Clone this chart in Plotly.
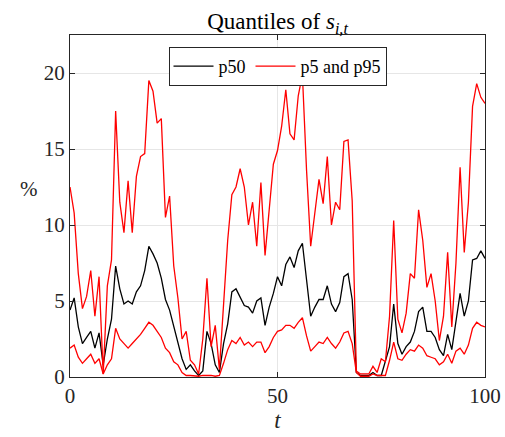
import plotly.graph_objects as go

t = list(range(0, 101))

p50 = [4.4, 5.2, 3.3, 2.2, 2.6, 3.0, 1.9, 2.9, 0.8, 2.5,
       3.8, 7.3, 5.8, 4.8, 5.0, 4.8, 5.6, 6.0, 7.0, 8.6,
       8.1, 7.5, 6.5, 5.1, 4.4, 3.3, 2.2, 1.2, 0.5, 0.8,
       0.4, 0.1, 0.4, 3.0, 2.2, 0.8, 0.3, 2.2, 3.5, 5.6,
       5.8, 5.3, 4.7, 4.6, 4.2, 5.0, 5.2, 3.4, 4.6, 5.5,
       6.6, 6.0, 7.4, 7.9, 7.2, 8.3, 8.8, 6.4, 4.0, 4.6,
       5.1, 5.1, 6.0, 4.8, 4.3, 4.9, 6.6, 6.8, 5.1, 0.3,
       0.1, 0.1, 0.1, 0.3, 0.1, 0.1, 1.0, 2.0, 4.8, 2.2,
       1.5, 2.0, 2.3, 3.0, 4.3, 4.6, 3.0, 3.0, 2.6, 1.8,
       1.4, 2.8, 1.8, 3.5, 5.5, 4.0, 5.0, 7.7, 7.8, 8.3,
       7.8]

p5 = [1.9, 2.1, 1.3, 0.9, 1.2, 1.5, 0.9, 1.2, 0.2, 0.8,
      1.2, 3.2, 2.5, 2.2, 1.9, 2.2, 2.5, 2.8, 3.2, 3.6,
      3.4, 3.0, 2.6, 1.9, 1.6, 1.0, 0.8, 0.3, 0.1, 0.1,
      0.05, 0.05, 0.1, 0.1, 0.1, 0.05, 0.1, 0.9, 1.8, 2.4,
      2.2, 2.6, 2.1, 2.3, 2.0, 2.3, 2.3, 1.6, 2.0, 2.6,
      3.0, 3.1, 3.4, 3.4, 3.2, 3.6, 3.9, 2.7, 1.7, 2.0,
      2.3, 2.2, 2.6, 2.2, 1.9, 2.3, 2.9, 3.0, 2.2, 0.3,
      0.05, 0.05, 0.05, 0.2, 0.1, 0.1, 0.1, 1.1, 2.3, 1.2,
      1.1, 1.5, 1.8, 1.7, 2.1, 1.9, 1.4, 1.3, 1.2, 0.8,
      1.0, 1.5, 0.9, 1.7, 1.9, 1.5, 2.1, 3.2, 3.6, 3.4,
      3.3]

p95 = [12.5, 10.8, 6.8, 4.5, 5.3, 7.0, 4.0, 6.6, 0.2, 6.0,
       7.7, 17.5, 11.5, 9.5, 12.9, 9.5, 13.2, 14.5, 14.7, 19.5,
       18.8, 16.7, 17.0, 10.5, 11.9, 7.3, 5.2, 2.5, 3.0, 1.1,
       0.8, 0.2, 2.5, 6.5, 2.0, 3.4, 0.5, 4.4, 9.0, 12.0,
       12.5, 13.7, 12.5, 10.0, 11.5, 8.6, 12.8, 8.0, 11.0, 14.0,
       14.9, 16.5, 18.9, 16.0, 15.6, 18.5, 19.9, 13.6, 8.6, 10.9,
       13.0, 11.4, 14.5, 10.0, 11.5, 11.0, 15.5, 15.6, 11.6, 0.4,
       0.2, 0.2, 0.2, 0.7, 0.3, 1.2, 1.0, 4.0, 10.3, 3.8,
       2.9, 4.2, 6.8, 6.5, 11.0, 9.0, 5.9, 6.8, 5.0, 2.4,
       4.0, 8.2, 3.3, 7.5, 13.8, 8.2, 11.5, 17.8, 19.3, 18.4,
       18.0]

x_ticks = [0, 50, 100]
y_ticks = [0, 5, 10, 15, 20]

FONT = "Liberation Serif"

fig = go.Figure()
fig.add_trace(go.Scatter(x=t, y=p50, mode="lines", name="p50",
                         line=dict(color="black", width=1.3)))
fig.add_trace(go.Scatter(x=t, y=p5, mode="lines", name="p5 and p95",
                         legendgroup="r", line=dict(color="#ff0000", width=1.3)))
fig.add_trace(go.Scatter(x=t, y=p95, mode="lines", name="p95",
                         legendgroup="r", showlegend=False,
                         line=dict(color="#ff0000", width=1.3)))

axis_common = dict(showline=True, linecolor="#262626", linewidth=1, mirror="allticks",
                   ticks="inside", ticklen=5, tickcolor="#262626",
                   showgrid=True, gridcolor="#e6e6e6", gridwidth=1, zeroline=False,
                   automargin=False,
                   tickfont=dict(family=FONT, size=21, color="#262626"))

fig.update_xaxes(range=[0, 100], tickvals=x_ticks, **axis_common,
                 title=dict(text="<i>t</i>", font=dict(family=FONT, size=23, color="#262626"),
                            standoff=2))
fig.update_yaxes(range=[0, 22.5], tickvals=y_ticks, **axis_common)

fig.add_annotation(text="%", x=-0.125, y=0.55, xref="paper", yref="paper",
                   showarrow=False, font=dict(family=FONT, size=21, color="#262626"))

fig.update_layout(
    width=505, height=437,
    margin=dict(l=70, r=20, t=35, b=60, autoexpand=False),
    paper_bgcolor="white", plot_bgcolor="white",
    title=dict(text="Quantiles of <i>s</i><sub><i>i,t</i></sub>", x=0.5, xref="paper",
               y=1 - 21 / 437, yref="container", yanchor="middle",
               font=dict(family=FONT, size=23, color="black")),
    legend=dict(orientation="h", x=0.5, xanchor="center", y=0.965, yanchor="top",
                bgcolor="white", bordercolor="#262626", borderwidth=1,
                font=dict(family=FONT, size=18, color="black"),
                itemwidth=40, tracegroupgap=0),
    showlegend=True,
)

fig.write_html("out.html",
               config={"displayModeBar": False},
               post_script="document.body.style.margin='0';document.body.style.overflow='hidden';")
